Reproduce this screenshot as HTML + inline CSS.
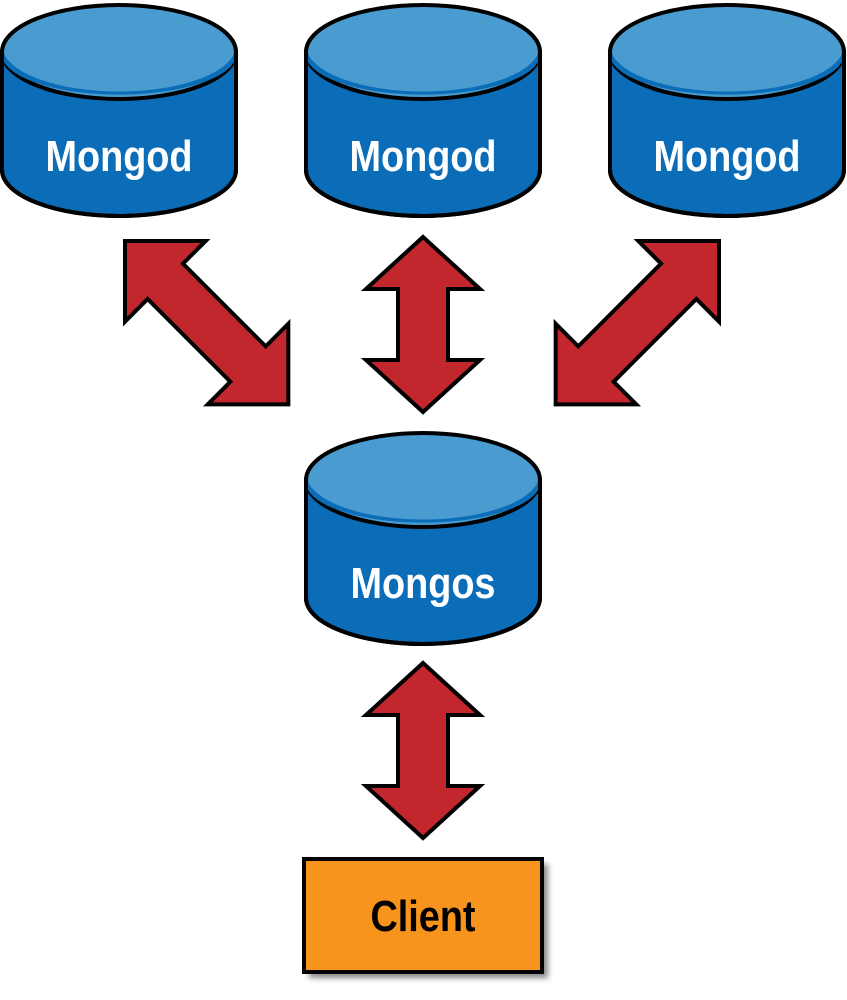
<!DOCTYPE html>
<html><head><meta charset="utf-8"><style>
html,body{margin:0;padding:0;background:#fff;width:847px;height:1000px;overflow:hidden}
text{font-family:"Liberation Sans",sans-serif;font-weight:bold}
</style></head><body>
<svg width="847" height="1000" viewBox="0 0 847 1000" xmlns="http://www.w3.org/2000/svg">
<defs>
<g id="cyl">
<path d="M-117,50 L-117,168 A117,46 0 0 0 117,168 L117,50 Z" fill="#0b6db8" stroke="#000" stroke-width="4"/>
<ellipse cx="0" cy="50" rx="117" ry="47" fill="#4a9bd0" stroke="#000" stroke-width="4"/>
<path d="M-115,52 A117,46 0 0 0 115,52 L115,60 A117,40 0 0 1 -115,60 Z" fill="#0b6db8"/>
<path d="M-117,50 L-117,168 A117,46 0 0 0 117,168 L117,50" fill="none" stroke="#000" stroke-width="4"/>
</g>
<polygon id="arr" points="0,0 57,-57 57,-25 174,-25 174,-57 231,0 174,57 174,25 57,25 57,57" fill="#c1272d" stroke="#000" stroke-width="4" stroke-linejoin="miter"/>
<polygon id="varr" points="0,0 52,-57 52,-25 123,-25 123,-57 175,0 123,57 123,25 52,25 52,57" fill="#c1272d" stroke="#000" stroke-width="4"/>
<filter id="sh" x="-10%" y="-10%" width="130%" height="140%"><feGaussianBlur stdDeviation="3"/></filter>
</defs>
<use href="#cyl" x="119" y="2"/>
<use href="#cyl" x="423" y="2"/>
<use href="#cyl" x="727" y="2"/>
<use href="#cyl" x="423" y="430"/>
<g fill="#fff" font-size="44" text-anchor="middle">
<text x="119" y="171" transform="translate(119 0) scale(0.86 1) translate(-119 0)">Mongod</text>
<text x="423" y="171" transform="translate(423 0) scale(0.86 1) translate(-423 0)">Mongod</text>
<text x="727" y="171" transform="translate(727 0) scale(0.86 1) translate(-727 0)">Mongod</text>
<text x="423" y="598" transform="translate(423 0) scale(0.86 1) translate(-423 0)">Mongos</text>
</g>
<use href="#arr" transform="translate(125,241) rotate(45)"/>
<use href="#arr" transform="translate(719,241) rotate(135)"/>
<use href="#varr" transform="translate(423,237) rotate(90)"/>
<use href="#varr" transform="translate(423,663) rotate(90)"/>
<rect x="309" y="864" width="239" height="114" fill="#888" filter="url(#sh)"/>
<rect x="304" y="859" width="238" height="113" fill="#f7941e" stroke="#000" stroke-width="4"/>
<text x="423" y="931" font-size="44" text-anchor="middle" fill="#000" transform="translate(423 0) scale(0.86 1) translate(-423 0)">Client</text>
</svg>
</body></html>
